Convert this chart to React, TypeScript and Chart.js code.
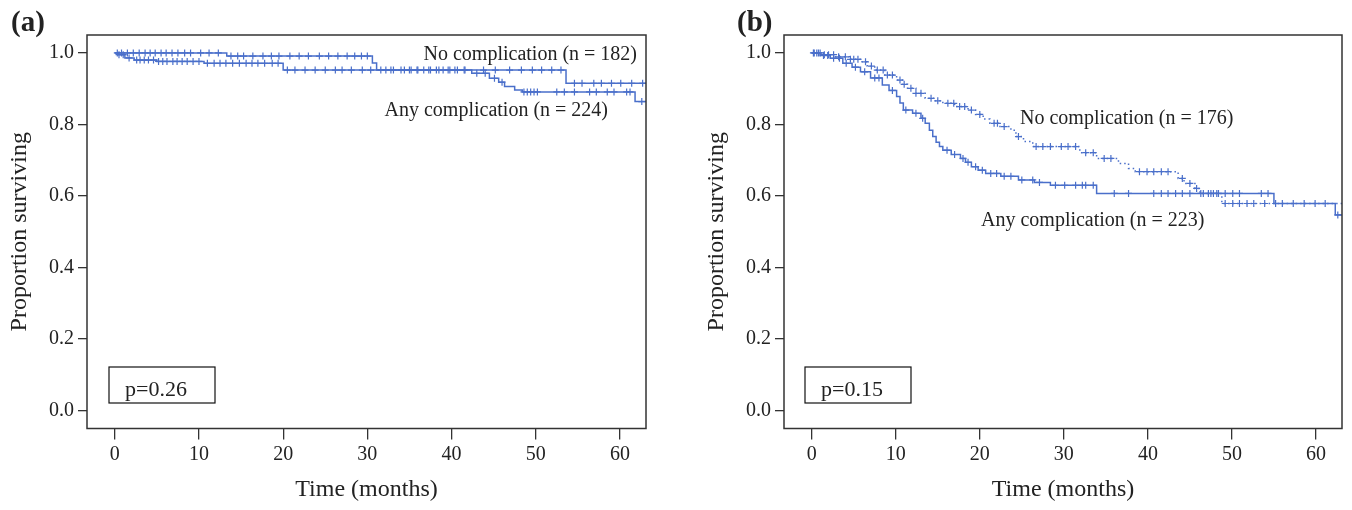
import React, { useEffect, useRef } from "react";
import { Chart, registerables } from "chart.js";

Chart.register(...registerables);

const FONT = '"Liberation Serif", "Times New Roman", serif';
const BLUE = "#4a6fca";
const INK = "#222222";
const FRAME = "#333333";

const X_TICKS = [0, 10, 20, 30, 40, 50, 60];
const Y_TICKS = [0, 0.2, 0.4, 0.6, 0.8, 1.0];
const X_MIN = -3.3;
const X_MAX = 63.1;
const Y_MIN = -0.05;
const Y_MAX = 1.05;

// Panel (a): No complication
const A_NO_T = [0, 13.3, 30.6, 31.1, 53.6, 63.1];
const A_NO_S = [1.0, 0.991, 0.972, 0.952, 0.915, 0.915];
const A_NO_CENS = [0.3, 0.8, 1.5, 2.2, 2.9, 3.6, 4.2, 4.8, 5.5, 6.1, 6.8, 7.5, 8.3, 9.0, 10.2, 11.2, 12.3, 13.8, 14.6, 15.3, 16.4, 17.6, 18.6, 19.5, 20.8, 21.9, 23.0, 24.3, 25.4, 26.5, 27.6, 28.5, 29.3, 30.0, 31.6, 32.8, 34.0, 35.2, 36.0, 37.3, 38.5, 39.6, 40.4, 41.5, 43.8, 45.2, 46.9, 48.3, 49.6, 50.7, 51.9, 53.0, 54.6, 55.5, 56.9, 57.8, 59.0, 60.1, 61.4, 62.7];

// Panel (a): Any complication
const A_ANY_T = [0, 0.4, 1.2, 2.3, 5.0, 10.6, 20.0, 42.4, 44.5, 45.6, 46.3, 47.5, 48.4, 61.8, 63.1];
const A_ANY_S = [1.0, 0.995, 0.986, 0.98, 0.976, 0.971, 0.952, 0.943, 0.929, 0.918, 0.906, 0.896, 0.891, 0.864, 0.864];
const A_ANY_CENS = [0.5, 1.0, 1.7, 2.6, 3.0, 3.5, 4.0, 4.6, 5.2, 5.7, 6.2, 6.9, 7.4, 8.0, 8.6, 9.3, 10.0, 11.0, 11.8, 12.5, 13.2, 14.0, 14.8, 15.6, 16.3, 17.0, 17.8, 18.7, 19.4, 20.5, 21.4, 22.6, 23.8, 25.0, 26.2, 27.0, 28.1, 29.4, 30.4, 32.2, 33.1, 34.4, 35.0, 35.9, 36.7, 37.5, 38.2, 39.0, 39.8, 40.7, 41.6, 43.0, 44.0, 45.1, 46.0, 48.6, 49.0, 49.4, 49.8, 50.2, 52.5, 53.4, 54.6, 56.4, 57.2, 58.5, 59.3, 60.8, 61.2, 62.6];

// Panel (b): No complication
const B_NO_T = [0, 1.2, 2.8, 4.5, 5.8, 6.6, 7.5, 8.7, 10.1, 10.8, 11.4, 12.4, 13.5, 14.6, 15.6, 17.0, 18.6, 19.5, 20.4, 21.2, 22.4, 23.7, 24.3, 25.2, 26.3, 31.9, 33.9, 36.5, 37.7, 38.5, 43.6, 44.3, 45.6, 46.2, 48.8, 63.1];
const B_NO_S = [1.0, 0.995, 0.989, 0.982, 0.975, 0.963, 0.952, 0.938, 0.924, 0.912, 0.901, 0.887, 0.873, 0.866, 0.859, 0.85, 0.84, 0.828, 0.815, 0.803, 0.794, 0.784, 0.766, 0.752, 0.738, 0.721, 0.705, 0.691, 0.677, 0.668, 0.649, 0.635, 0.621, 0.607, 0.579, 0.579];
const B_NO_CENS = [0.2, 0.6, 1.0, 1.5, 2.0, 2.6, 3.2, 4.0, 4.6, 5.0, 5.5, 6.4, 7.1, 7.8, 8.5, 9.0, 9.6, 10.5, 11.0, 11.8, 12.4, 13.0, 14.2, 15.0, 16.2, 16.9, 17.6, 18.2, 19.0, 20.0, 21.7, 22.1, 22.9, 24.6, 26.7, 27.5, 28.4, 29.7, 30.5, 31.4, 32.6, 33.5, 34.8, 35.6, 39.0, 39.9, 40.7, 41.6, 42.4, 44.1, 45.0, 45.8, 46.6, 47.2, 47.8, 48.2, 49.2, 50.1, 50.9, 51.8, 52.6, 53.9];

// Panel (b): Any complication
const B_ANY_T = [0, 1.0, 2.2, 3.7, 4.8, 5.8, 7.0, 8.4, 9.2, 10.1, 10.5, 10.9, 12.0, 13.0, 13.5, 14.0, 14.4, 14.8, 15.2, 15.6, 16.6, 17.7, 18.3, 19.0, 19.8, 20.7, 22.5, 24.6, 26.5, 28.4, 33.9, 55.0, 62.3, 63.1];
const B_ANY_S = [1.0, 0.993, 0.985, 0.971, 0.96, 0.947, 0.93, 0.91, 0.895, 0.878, 0.86, 0.84, 0.831, 0.817, 0.803, 0.784, 0.766, 0.75, 0.738, 0.728, 0.716, 0.705, 0.694, 0.682, 0.672, 0.663, 0.655, 0.645, 0.638, 0.63, 0.607, 0.579, 0.547, 0.547];
const B_ANY_CENS = [0.3, 0.8, 1.4, 1.9, 2.6, 3.3, 4.1, 5.2, 6.3, 7.5, 8.0, 9.6, 11.2, 12.4, 13.2, 16.1, 17.0, 18.0, 18.6, 19.5, 20.3, 21.3, 22.0, 22.9, 23.7, 25.0, 26.3, 27.1, 29.0, 30.1, 31.4, 32.2, 32.6, 33.5, 36.0, 37.7, 40.7, 41.6, 42.4, 43.3, 44.1, 45.0, 46.3, 47.5, 48.4, 49.2, 50.1, 50.9, 53.5, 54.3, 55.2, 56.0, 57.3, 58.6, 59.9, 61.1, 62.6];

type Curve = { t: number[]; s: number[]; cens: number[]; dash: number[] };
type Note = { text: string; x: number; y: number; align: CanvasTextAlign };
type Panel = {
  left: number;
  width: number;
  rightPad: number;
  tag: string;
  tagX: number;
  pText: string;
  box: { x: number; y: number; w: number; h: number };
  curves: Curve[];
  notes: Note[];
};

const levelAt = (ts: number[], ss: number[], t: number) => {
  let v = ss[0];
  for (let i = 0; i < ts.length; i++) if (ts[i] <= t) v = ss[i];
  return v;
};

const PANELS: Panel[] = [
  {
    left: 0,
    width: 676,
    rightPad: 30,
    tag: "(a)",
    tagX: 11,
    pText: "p=0.26",
    box: { x: 109, y: 367, w: 106, h: 36 },
    curves: [
      { t: A_NO_T, s: A_NO_S, cens: A_NO_CENS, dash: [] },
      { t: A_ANY_T, s: A_ANY_S, cens: A_ANY_CENS, dash: [] },
    ],
    notes: [
      { text: "No complication (n = 182)", x: 637, y: 60, align: "right" },
      { text: "Any complication (n = 224)", x: 608, y: 116, align: "right" },
    ],
  },
  {
    left: 697,
    width: 655,
    rightPad: 10,
    tag: "(b)",
    tagX: 40,
    pText: "p=0.15",
    box: { x: 108, y: 367, w: 106, h: 36 },
    curves: [
      { t: B_NO_T, s: B_NO_S, cens: B_NO_CENS, dash: [1.5, 3] },
      { t: B_ANY_T, s: B_ANY_S, cens: B_ANY_CENS, dash: [] },
    ],
    notes: [
      { text: "No complication (n = 176)", x: 323, y: 124, align: "left" },
      { text: "Any complication (n = 223)", x: 284, y: 226, align: "left" },
    ],
  },
];

function PanelChart({ panel }: { panel: Panel }) {
  const ref = useRef<HTMLCanvasElement | null>(null);

  useEffect(() => {
    if (!ref.current) return;
    const datasets: any[] = [];
    panel.curves.forEach((c) => {
      datasets.push({
        type: "line",
        data: c.t.map((t, i) => ({ x: t, y: c.s[i] })),
        stepped: true,
        borderColor: BLUE,
        borderWidth: 1.5,
        borderDash: c.dash,
        pointRadius: 0,
        fill: false,
        tension: 0,
      });
      datasets.push({
        type: "scatter",
        data: c.cens.map((t) => ({ x: t, y: levelAt(c.t, c.s, t) })),
        pointStyle: "cross",
        pointRadius: 3.5,
        borderColor: BLUE,
        backgroundColor: BLUE,
        borderWidth: 1.2,
        showLine: false,
      });
    });

    const overlay = {
      id: "overlay",
      afterDraw(chart: any) {
        const { ctx, chartArea } = chart;
        ctx.save();
        ctx.strokeStyle = FRAME;
        ctx.lineWidth = 1.5;
        ctx.setLineDash([]);
        ctx.strokeRect(chartArea.left, chartArea.top, chartArea.right - chartArea.left, chartArea.bottom - chartArea.top);
        ctx.fillStyle = INK;
        ctx.textBaseline = "alphabetic";
        ctx.font = `20px ${FONT}`;
        panel.notes.forEach((n) => {
          ctx.textAlign = n.align;
          ctx.fillText(n.text, n.x, n.y);
        });
        const b = panel.box;
        ctx.lineWidth = 1.2;
        ctx.strokeStyle = "#111";
        ctx.strokeRect(b.x, b.y, b.w, b.h);
        ctx.textAlign = "left";
        ctx.font = `22px ${FONT}`;
        ctx.fillText(panel.pText, b.x + 16, b.y + 29);
        ctx.font = `bold 29px ${FONT}`;
        ctx.fillText(panel.tag, panel.tagX, 31);
        ctx.restore();
      },
    };

    const chart = new Chart(ref.current, {
      type: "line",
      data: { datasets },
      options: {
        animation: false,
        responsive: false,
        maintainAspectRatio: false,
        layout: { padding: { left: 0, right: panel.rightPad, top: 35, bottom: 0 } },
        plugins: { legend: { display: false }, tooltip: { enabled: false } },
        scales: {
          x: {
            type: "linear",
            min: X_MIN,
            max: X_MAX,
            afterBuildTicks: (s: any) => {
              s.ticks = X_TICKS.map((v) => ({ value: v }));
            },
            afterFit: (s: any) => {
              s.height = 81.5;
            },
            border: { display: false },
            grid: { display: true, drawOnChartArea: false, drawTicks: true, tickLength: 11, color: FRAME, lineWidth: 1.3 },
            ticks: { font: { family: FONT, size: 20 }, color: INK, padding: 3, maxRotation: 0, autoSkip: false, callback: (v: any) => String(v) },
            title: { display: true, text: "Time (months)", font: { family: FONT, size: 24 }, color: INK, padding: { top: 0, bottom: 6 } },
          },
          y: {
            type: "linear",
            min: Y_MIN,
            max: Y_MAX,
            afterBuildTicks: (s: any) => {
              s.ticks = Y_TICKS.map((v) => ({ value: v }));
            },
            afterFit: (s: any) => {
              s.width = 87;
            },
            border: { display: false },
            grid: { display: true, drawOnChartArea: false, drawTicks: true, tickLength: 9, color: FRAME, lineWidth: 1.3 },
            ticks: { font: { family: FONT, size: 20 }, color: INK, padding: 4, autoSkip: false, callback: (v: any) => Number(v).toFixed(1) },
            title: { display: true, text: "Proportion surviving", font: { family: FONT, size: 24 }, color: INK, padding: { top: 5, bottom: 0 } },
          },
        },
      } as any,
      plugins: [overlay],
    });
    return () => chart.destroy();
  }, [panel]);

  return (
    <canvas
      ref={ref}
      width={panel.width}
      height={510}
      style={{ position: "absolute", left: panel.left, top: 0, width: panel.width, height: 510, display: "block" }}
    />
  );
}

export default function App() {
  return (
    <div style={{ position: "absolute", left: 0, top: 0, width: 1352, height: 510, background: "#ffffff", overflow: "hidden" }}>
      {PANELS.map((p) => (
        <PanelChart key={p.tag} panel={p} />
      ))}
    </div>
  );
}
